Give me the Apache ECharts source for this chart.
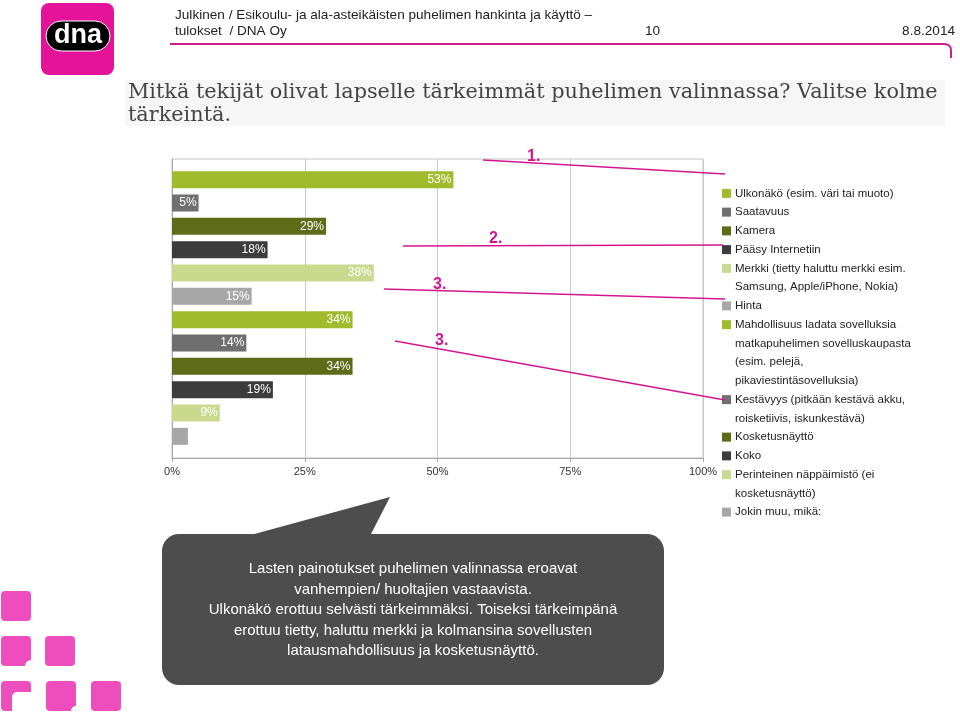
<!DOCTYPE html>
<html><head><meta charset="utf-8">
<script src="https://cdn.jsdelivr.net/npm/echarts@6/dist/echarts.min.js"></script>
<style>html,body{margin:0;padding:0;background:#fff}#c{width:960px;height:715px}</style>
</head><body><div id="c"></div>
<script>
const categories = [
  'Ulkonäkö (esim. väri tai muoto)',
  'Saatavuus',
  'Kamera',
  'Pääsy Internetiin',
  'Merkki (tietty haluttu merkki esim.\nSamsung, Apple/iPhone, Nokia)',
  'Hinta',
  'Mahdollisuus ladata sovelluksia\nmatkapuhelimen sovelluskaupasta\n(esim. pelejä,\npikaviestintäsovelluksia)',
  'Kestävyys (pitkään kestävä akku,\nroisketiivis, iskunkestävä)',
  'Kosketusnäyttö',
  'Koko',
  'Perinteinen näppäimistö (ei\nkosketusnäyttö)',
  'Jokin muu, mikä:'
];
const values = [53, 5, 29, 18, 38, 15, 34, 14, 34, 19, 9, 3];
const showLabel = [true, true, true, true, true, true, true, true, true, true, true, false];
const colors = ['#a0bc2c', '#6f6f6f', '#5e6b18', '#3c3c3c', '#c9da8e', '#a7a7a7',
                '#a0bc2c', '#6f6f6f', '#5e6b18', '#3c3c3c', '#c9da8e', '#a7a7a7'];
const xTicks = [0, 25, 50, 75, 100];
const bubbleLines = [
  'Lasten painotukset puhelimen valinnassa eroavat',
  'vanhempien/ huoltajien vastaavista.',
  'Ulkonäkö erottuu selvästi tärkeimmäksi. Toiseksi tärkeimpänä',
  'erottuu tietty, haluttu merkki ja kolmansina sovellusten',
  'latausmahdollisuus ja kosketusnäyttö.'
];

const FONT = '"Liberation Sans", Arial, sans-serif';
const MAG = '#d4168e';
const LH = 18.75;
const chart = echarts.init(document.getElementById('c'), null, {renderer: 'canvas'});

const rich = {
  t: {fontSize: 11.5, color: '#222', lineHeight: LH, height: LH, padding: [0, 0, 0, 4], fontFamily: FONT, backgroundColor: 'rgba(255,255,255,0)'},
  ind: {width: 9, height: 9, lineHeight: LH}
};
colors.forEach((c, i) => { rich['s' + i] = {width: 9, height: 9, backgroundColor: c, lineHeight: LH}; });

const series = categories.map((name, i) => ({
  type: 'bar',
  name: name,
  xAxisIndex: 1,
  yAxisIndex: 1,
  stack: 'all',
  barWidth: 17,
  itemStyle: {color: colors[i]},
  label: {
    show: showLabel[i], position: 'insideRight', distance: 2,
    color: '#fff', fontSize: 12, fontFamily: FONT,
    formatter: p => p.value + '%'
  },
  emphasis: {disabled: true},
  data: categories.map((c, j) => j === i ? values[i] : '-')
}));

const HF = '13.6px ' + FONT;
const graphic = [
  // logo
  {type: 'rect', shape: {x: 41, y: 3, width: 73, height: 72, r: 8}, style: {fill: '#e5139a'}},
  {type: 'rect', shape: {x: 46, y: 21, width: 64, height: 30, r: 15}, style: {fill: '#000', stroke: '#fff', lineWidth: 1}},
  {type: 'text', x: 78, y: 36, style: {text: 'dna', fill: '#fff', font: 'bold 27px ' + FONT, align: 'center', verticalAlign: 'middle'}},
  // header
  {type: 'text', x: 175, y: 15, style: {text: 'Julkinen / Esikoulu- ja ala-asteikäisten puhelimen hankinta ja käyttö –', fill: '#222', font: HF, verticalAlign: 'middle'}},
  {type: 'text', x: 175, y: 31, style: {text: 'tulokset  / DNA Oy', fill: '#222', font: HF, verticalAlign: 'middle'}},
  {type: 'text', x: 645, y: 31, style: {text: '10', fill: '#222', font: HF, verticalAlign: 'middle'}},
  {type: 'text', x: 955, y: 31, style: {text: '8.8.2014', fill: '#222', font: HF, align: 'right', verticalAlign: 'middle'}},
  {type: 'polyline', shape: {points: [[170, 44], [945, 44], [948.5, 45], [950.5, 47.5], [951, 50], [951, 58]]}, style: {stroke: '#cf1e8d', lineWidth: 2, fill: null}},
  // title
  {type: 'rect', shape: {x: 125, y: 80, width: 820, height: 46}, style: {fill: '#f6f6f6'}},
  {type: 'text', x: 128, y: 93, style: {text: 'Mitkä tekijät olivat lapselle tärkeimmät puhelimen valinnassa? Valitse kolme', fill: '#444', font: '20.8px "DejaVu Serif", serif', verticalAlign: 'middle'}},
  {type: 'text', x: 128, y: 116, style: {text: 'tärkeintä.', fill: '#444', font: '20.8px "DejaVu Serif", serif', verticalAlign: 'middle'}},
  // annotations
  {type: 'line', shape: {x1: 483, y1: 160, x2: 725, y2: 174}, style: {stroke: MAG, lineWidth: 1.5}, z: 10},
  {type: 'text', x: 527, y: 157, style: {text: '1.', fill: MAG, font: 'bold 16px ' + FONT, verticalAlign: 'middle'}, z: 10},
  {type: 'line', shape: {x1: 403, y1: 246, x2: 723, y2: 245}, style: {stroke: MAG, lineWidth: 1.5}, z: 10},
  {type: 'text', x: 489, y: 239, style: {text: '2.', fill: MAG, font: 'bold 16px ' + FONT, verticalAlign: 'middle'}, z: 10},
  {type: 'line', shape: {x1: 384, y1: 289, x2: 725, y2: 299}, style: {stroke: MAG, lineWidth: 1.5}, z: 10},
  {type: 'text', x: 433, y: 285, style: {text: '3.', fill: MAG, font: 'bold 16px ' + FONT, verticalAlign: 'middle'}, z: 10},
  {type: 'line', shape: {x1: 395, y1: 341, x2: 725, y2: 400}, style: {stroke: MAG, lineWidth: 1.5}, z: 10},
  {type: 'text', x: 435, y: 341, style: {text: '3.', fill: MAG, font: 'bold 16px ' + FONT, verticalAlign: 'middle'}, z: 10},
  // speech bubble
  {type: 'polygon', shape: {points: [[247, 536], [390, 497], [370, 536]]}, style: {fill: '#4d4d4d'}},
  {type: 'rect', shape: {x: 162, y: 534, width: 502, height: 151, r: 17}, style: {fill: '#4d4d4d'}},
  {type: 'text', x: 413, y: 610, style: {text: bubbleLines.join('\n'), fill: '#fff', font: '15px ' + FONT, lineHeight: 20.5, align: 'center', verticalAlign: 'middle'}},
  // pink squares
  {type: 'rect', shape: {x: 1, y: 591, width: 30, height: 30, r: 4}, style: {fill: '#ee4dbe'}},
  {type: 'rect', shape: {x: 1, y: 636, width: 30, height: 30, r: 4}, style: {fill: '#ee4dbe'}},
  {type: 'circle', shape: {cx: 31, cy: 666, r: 6}, style: {fill: '#fff'}},
  {type: 'rect', shape: {x: 45, y: 636, width: 30, height: 30, r: 4}, style: {fill: '#ee4dbe'}},
  {type: 'rect', shape: {x: 1, y: 681, width: 30, height: 30, r: 4}, style: {fill: '#ee4dbe'}},
  {type: 'rect', shape: {x: 12, y: 692, width: 22, height: 22, r: [5, 0, 0, 0]}, style: {fill: '#fff'}},
  {type: 'rect', shape: {x: 46, y: 681, width: 30, height: 30, r: 4}, style: {fill: '#ee4dbe'}},
  {type: 'circle', shape: {cx: 76, cy: 711, r: 5}, style: {fill: '#fff'}},
  {type: 'rect', shape: {x: 91, y: 681, width: 30, height: 30, r: 4}, style: {fill: '#ee4dbe'}}
];

chart.setOption({
  animation: false,
  backgroundColor: '#fff',
  textStyle: {fontFamily: FONT},
  grid: [
    {left: 172, top: 159, width: 531, height: 299, show: true, borderColor: '#c4c4c4', borderWidth: 1, backgroundColor: 'transparent'},
    {left: 172, top: 168, width: 531, height: 280}
  ],
  xAxis: [
    {
      gridIndex: 0, type: 'value', min: xTicks[0], max: xTicks[xTicks.length - 1], interval: xTicks[1] - xTicks[0],
      axisLabel: {formatter: v => v + '%', fontSize: 11, color: '#333', margin: 8, fontFamily: FONT},
      splitLine: {show: true, lineStyle: {color: '#c8c8c8', width: 1}},
      axisLine: {show: true, lineStyle: {color: '#a8a8a8'}},
      axisTick: {show: true, length: 4, lineStyle: {color: '#a8a8a8'}}
    },
    {gridIndex: 1, type: 'value', min: xTicks[0], max: xTicks[xTicks.length - 1], show: false}
  ],
  yAxis: [
    {gridIndex: 0, type: 'category', data: [''], axisLine: {show: true, lineStyle: {color: '#a8a8a8'}}, axisTick: {show: false}, axisLabel: {show: false}, splitLine: {show: false}},
    {gridIndex: 1, type: 'category', data: categories, inverse: true, show: false}
  ],
  legend: {
    orient: 'vertical', left: 717, top: 184, padding: 0, itemGap: 0,
    itemWidth: 0, itemHeight: 0, icon: 'none',
    data: categories,
    formatter: name => {
      const i = categories.indexOf(name);
      return name.split('\n').map((l, k) => (k === 0 ? '{s' + i + '|}' : '{ind|}') + '{t|' + l + '}').join('\n');
    },
    textStyle: {fontSize: 11.5, color: '#222', rich: rich}
  },
  series: series,
  graphic: graphic
});
</script>
</body></html>
